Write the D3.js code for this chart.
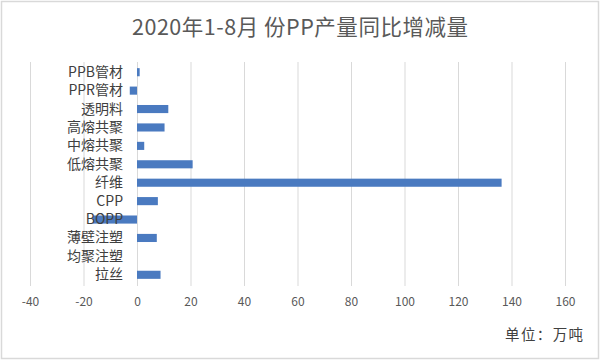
<!DOCTYPE html>
<html><head><meta charset="utf-8">
<script src="https://cdn.jsdelivr.net/npm/d3@7"></script>
<style>body{margin:0;background:#fff}svg{display:block}</style>
</head><body>
<svg id="c" width="600" height="360"></svg>
<script>
const categories = ["PPB管材","PPR管材","透明料","高熔共聚","中熔共聚","低熔共聚","纤维","CPP","BOPP","薄壁注塑","均聚注塑","拉丝"];
const values = [1, -2.7, 11.7, 10.3, 2.7, 20.8, 136.3, 7.8, -16.5, 7.4, 0, 8.8];
const ticks = [-40,-20,0,20,40,60,80,100,120,140,160];
const title = "2020年1-8月 份PP产量同比增减量";
const unit = "单位：万吨";

const svg = d3.select("#c");
const font = "'Noto Sans CJK SC','Microsoft YaHei',sans-serif";
svg.append("rect").attr("x",1.5).attr("y",1.5).attr("width",597).attr("height",357)
  .attr("fill","#fff").attr("stroke","#d9d9d9").attr("stroke-width",1.5);

const x = d3.scaleLinear().domain([-40,160]).range([30,565]);
const y = d3.scaleBand().domain(categories).range([63,284]).paddingInner(0.56).paddingOuter(0.28);

svg.append("g").selectAll("line").data(ticks).join("line")
  .attr("x1",d=>x(d)+0.5).attr("x2",d=>x(d)+0.5)
  .attr("y1",62).attr("y2",286)
  .attr("stroke","#d9d9d9").attr("stroke-width",1);

svg.append("g").selectAll("rect").data(categories).join("rect")
  .attr("x",(d,i)=>x(Math.min(0,values[i])))
  .attr("width",(d,i)=>Math.abs(x(values[i])-x(0)))
  .attr("y",d=>y(d)).attr("height",y.bandwidth())
  .attr("fill","#4a7ac0");

const xAxis = d3.axisBottom(x).tickValues(ticks).tickFormat(d=>String(d)).tickSize(0).tickPadding(0);
const ga = svg.append("g").attr("transform","translate(0,297)").call(xAxis);
ga.select(".domain").remove();
ga.selectAll("text").attr("font-family",font).attr("font-size",12).attr("fill","#595959").attr("dy","0.71em");

const yAxis = d3.axisLeft(y).tickSize(0).tickPadding(0);
const gy = svg.append("g").attr("transform","translate(123,0)").call(yAxis);
gy.select(".domain").remove();
gy.selectAll("text").attr("font-family",font).attr("font-size",14).attr("fill","#404040");

svg.append("text").attr("x",132).attr("y",35).attr("text-anchor","start")
  .attr("textLength",336).attr("lengthAdjust","spacing")
  .attr("font-family",font).attr("font-size",21.5).attr("fill","#595959").text(title);
svg.append("text").attr("x",505).attr("y",340).attr("text-anchor","start")
  .attr("textLength",78).attr("lengthAdjust","spacing")
  .attr("font-family",font).attr("font-size",14.5).attr("fill","#404040").text(unit);
</script>
</body></html>
